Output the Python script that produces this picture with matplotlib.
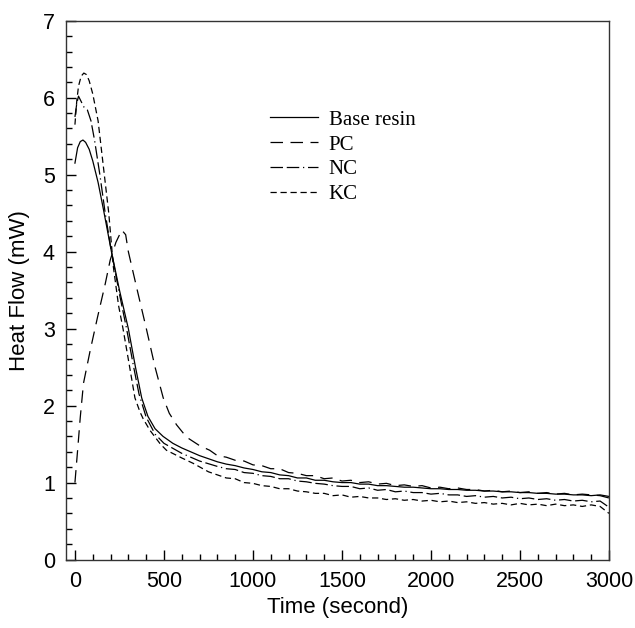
import matplotlib
matplotlib.use("Agg")
import matplotlib.pyplot as plt
import numpy as np

plt.rcParams["font.family"] = ["Liberation Sans", "DejaVu Sans"]

# heat flow (mW) vs time (s)
t_tail = list(range(800, 3001, 50))

base_t = [0, 15, 30, 45, 60, 80, 100, 130, 160, 205, 250, 300, 340, 375, 410,
          450, 495, 550, 600, 650, 700, 750]
base_v = [5.15, 5.35, 5.43, 5.45, 5.42, 5.33, 5.18, 4.9, 4.55, 4.0, 3.5, 3.0,
          2.5, 2.1, 1.86, 1.7, 1.6, 1.51, 1.45, 1.4, 1.35, 1.31]
base_tail = [1.27, 1.24, 1.22, 1.19, 1.17, 1.14, 1.13, 1.10, 1.09, 1.06,
             1.06, 1.03, 1.03, 1.01, 1.00, 1.00, 0.98, 0.98, 0.96, 0.96,
             0.95, 0.94, 0.94, 0.93, 0.92, 0.92, 0.91, 0.91, 0.90, 0.90,
             0.89, 0.89, 0.88, 0.88, 0.87, 0.87, 0.86, 0.86, 0.85, 0.85,
             0.84, 0.84, 0.83, 0.84, 0.82]

pc_t = [0, 15, 30, 48, 86, 127, 170, 198, 230, 263, 285, 300, 350, 403, 450,
        496, 530, 571, 627, 700, 757]
pc_v = [1.0, 1.42, 1.85, 2.29, 2.72, 3.15, 3.58, 3.89, 4.12, 4.28, 4.22, 4.0,
        3.5, 2.98, 2.5, 2.1, 1.9, 1.75, 1.59, 1.48, 1.42]
pc_tail = [1.35, 1.33, 1.29, 1.28, 1.23, 1.22, 1.18, 1.18, 1.13, 1.12,
           1.09, 1.09, 1.05, 1.06, 1.02, 1.03, 1.00, 1.01, 0.98, 0.99,
           0.96, 0.97, 0.95, 0.96, 0.93, 0.94, 0.92, 0.93, 0.91, 0.91,
           0.89, 0.90, 0.88, 0.89, 0.87, 0.88, 0.86, 0.87, 0.85, 0.86,
           0.84, 0.85, 0.84, 0.83, 0.80]

nc_t = [0, 10, 20, 35, 50, 70, 90, 110, 140, 170, 205, 250, 290, 330, 360,
        400, 450, 500, 600, 700]
nc_v = [5.75, 5.92, 6.02, 5.95, 5.88, 5.84, 5.7, 5.45, 5.0, 4.5, 4.0, 3.45,
        3.0, 2.5, 2.15, 1.85, 1.63, 1.51, 1.38, 1.28]
nc_tail = [1.21, 1.18, 1.17, 1.13, 1.12, 1.09, 1.08, 1.05, 1.05, 1.02,
           1.01, 0.99, 0.98, 0.96, 0.95, 0.95, 0.92, 0.93, 0.90, 0.91,
           0.88, 0.89, 0.87, 0.87, 0.85, 0.86, 0.84, 0.84, 0.82, 0.83,
           0.81, 0.82, 0.80, 0.81, 0.79, 0.80, 0.78, 0.79, 0.77, 0.78,
           0.76, 0.77, 0.75, 0.76, 0.68]

kc_t = [0, 10, 20, 35, 50, 65, 80, 100, 130, 160, 190, 216, 245, 270, 300,
        337, 365, 383, 421, 480, 514, 600, 664, 750]
kc_v = [5.65, 5.95, 6.15, 6.28, 6.32, 6.3, 6.22, 6.05, 5.7, 5.1, 4.5, 3.8,
        3.3, 3.0, 2.6, 2.1, 1.92, 1.83, 1.68, 1.5, 1.42, 1.32, 1.25, 1.14]
kc_tail = [1.10, 1.06, 1.05, 1.00, 0.99, 0.96, 0.95, 0.92, 0.92, 0.89,
           0.88, 0.86, 0.86, 0.83, 0.84, 0.81, 0.82, 0.80, 0.80, 0.78,
           0.79, 0.77, 0.78, 0.76, 0.77, 0.75, 0.76, 0.74, 0.75, 0.73,
           0.74, 0.72, 0.73, 0.71, 0.73, 0.71, 0.72, 0.70, 0.72, 0.70,
           0.71, 0.69, 0.71, 0.69, 0.60]

labels = ["Base resin", "PC", "NC", "KC"]

fig = plt.figure(figsize=(6.35, 6.28), dpi=100)
ax = fig.add_axes([0.104, 0.109, 0.855, 0.858])

lw = 0.9
ax.plot(base_t + t_tail, base_v + base_tail, color="black", lw=lw, label=labels[0])
ax.plot(pc_t + t_tail, pc_v + pc_tail, color="black", lw=lw, dashes=(10, 6), label=labels[1])
ax.plot(nc_t + t_tail, nc_v + nc_tail, color="black", lw=lw, dashes=(10, 3, 10, 3, 1, 3), label=labels[2])
ax.plot(kc_t + t_tail, kc_v + kc_tail, color="black", lw=lw, dashes=(5, 3), label=labels[3])

ax.set_xlim(-50, 3000)
ax.set_ylim(0, 7)
ax.set_xticks(np.arange(0, 3001, 500))
ax.set_xticks(np.arange(0, 3001, 100), minor=True)
ax.set_yticks(np.arange(0, 8, 1))
ax.set_yticks(np.arange(0, 7.01, 0.2), minor=True)
ax.tick_params(which="both", direction="in", top=False, right=False,
               labelsize=15.5, width=1)
ax.tick_params(axis="x", which="major", length=7, pad=8)
ax.tick_params(axis="y", which="major", length=7, pad=8)
ax.tick_params(which="minor", length=4)
for s in ax.spines.values():
    s.set_linewidth(1)
    s.set_color("#333333")

ax.set_xlabel("Time (second)", fontsize=16, labelpad=4)
ax.set_ylabel("Heat Flow (mW)", fontsize=16, labelpad=9)

ax.legend(loc="upper left", bbox_to_anchor=(0.376, 0.834), frameon=False,
          prop={"family": "Liberation Serif", "size": 15},
          handlelength=2.3, handletextpad=0.5, labelspacing=0.25,
          borderpad=0, borderaxespad=0)

fig.savefig("out.png", dpi=100)
